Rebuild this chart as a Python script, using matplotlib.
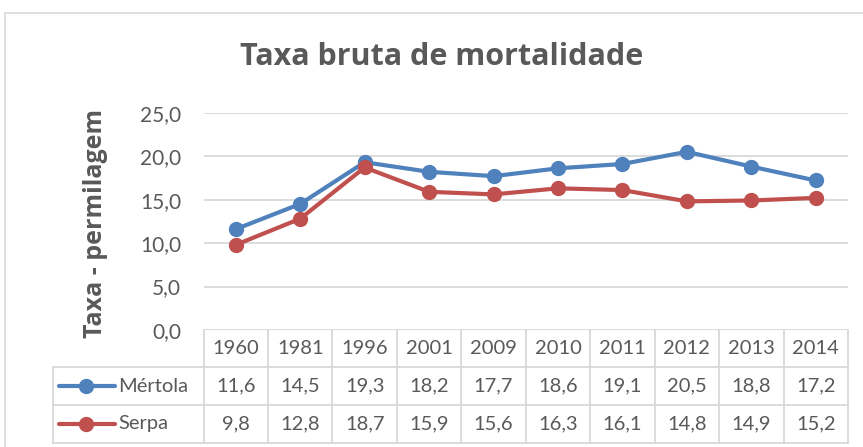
import matplotlib
matplotlib.use("Agg")
import matplotlib.pyplot as plt
from matplotlib.lines import Line2D
from matplotlib.transforms import blended_transform_factory
import matplotlib.patches as mpatches

years = ['1960', '1981', '1996', '2001', '2009', '2010', '2011', '2012', '2013', '2014']
mertola = [11.6, 14.5, 19.3, 18.2, 17.7, 18.6, 19.1, 20.5, 18.8, 17.2]
serpa = [9.8, 12.8, 18.7, 15.9, 15.6, 16.3, 16.1, 14.8, 14.9, 15.2]
series_names = ['Mértola', 'Serpa']
yticks = [0, 5, 10, 15, 20, 25]
title = 'Taxa bruta de mortalidade'
ylabel = 'Taxa - permilagem'

plt.rcParams['font.family'] = ['Lato', 'DejaVu Sans']

W, H = 863, 447
fig = plt.figure(figsize=(W / 100, H / 100), dpi=100)

TXT = '#595959'
GRID = '#d9d9d9'
colors = ['#4f81bd', '#c0504d']
series = [mertola, serpa]

L, R, T, B = 203.5, 848, 112.7, 330
ax = fig.add_axes([L / W, 1 - B / H, (R - L) / W, (B - T) / H])
xs = list(range(len(years)))
ax.set_xlim(-0.5, len(years) - 0.5)
ax.set_ylim(0, 25)
for s in ax.spines.values():
    s.set_visible(False)
ax.set_yticks(yticks)
ax.set_yticklabels([f'{v:.1f}'.replace('.', ',') for v in yticks], color=TXT, fontsize=15)
ax.tick_params(axis='y', length=0, pad=16)
ax.set_xticks([])
ax.yaxis.grid(True, color=GRID, lw=1.3)
ax.set_axisbelow(True)

for vals, c in zip(series, colors):
    ax.plot(xs, vals, color=c, lw=3, marker='o', ms=10, zorder=3, clip_on=False)

# data table
tr = blended_transform_factory(ax.transData, ax.transAxes)
ph = B - T
rb = [0, (B - 367) / ph, (B - 405) / ph, (B - 443) / ph]
xl = (53 - L) / (R - L)
for y in rb[1:]:
    ax.plot([xl, 1], [y, y], transform=ax.transAxes, color=GRID, lw=1.3, clip_on=False)
for i in range(len(years) + 1):
    ax.plot([i - 0.5, i - 0.5], [rb[3], 0], transform=tr, color=GRID, lw=1.3, clip_on=False)
ax.plot([xl, xl], [rb[3], rb[1]], transform=ax.transAxes, color=GRID, lw=1.3, clip_on=False)

for i, yr in enumerate(years):
    ax.text(i, (rb[0] + rb[1]) / 2, yr, transform=tr, ha='center', va='center',
            fontsize=14.5, color=TXT)
for r, (vals, name, c) in enumerate(zip(series, series_names, colors)):
    yc = (rb[r + 1] + rb[r + 2]) / 2
    for i, v in enumerate(vals):
        ax.text(i, yc, f'{v:.1f}'.replace('.', ','), transform=tr, ha='center',
                va='center', fontsize=14.5, color=TXT)
    x0 = (59 - L) / (R - L)
    x1 = (115 - L) / (R - L)
    xm = (86 - L) / (R - L)
    ax.add_line(Line2D([x0, x1], [yc, yc], transform=ax.transAxes, color=c, lw=3,
                       solid_capstyle='round', clip_on=False))
    ax.add_line(Line2D([xm], [yc], transform=ax.transAxes, color=c, marker='o', ms=10,
                       clip_on=False))
    ax.text((118 - L) / (R - L), yc, name, transform=ax.transAxes, ha='left',
            va='center', fontsize=14.5, color=TXT)

# chart frame
fig.patches.append(mpatches.Rectangle((5 / W, 0 - 0.05), (W + 20) / W, 1 - 13 / H + 0.05,
                                      transform=fig.transFigure, fill=False,
                                      edgecolor=GRID, lw=1.2))

fig.text(442 / W, 1 - 57 / H, title, ha='center', va='center', fontsize=22,
         fontweight='bold', color=TXT, family=['Open Sans', 'DejaVu Sans'])
fig.text(95 / W, 1 - 223 / H, ylabel, ha='center', va='center', rotation=90,
         fontsize=18, fontweight='bold', color=TXT, family=['Open Sans', 'DejaVu Sans'])

fig.savefig('out.png', dpi=100)
